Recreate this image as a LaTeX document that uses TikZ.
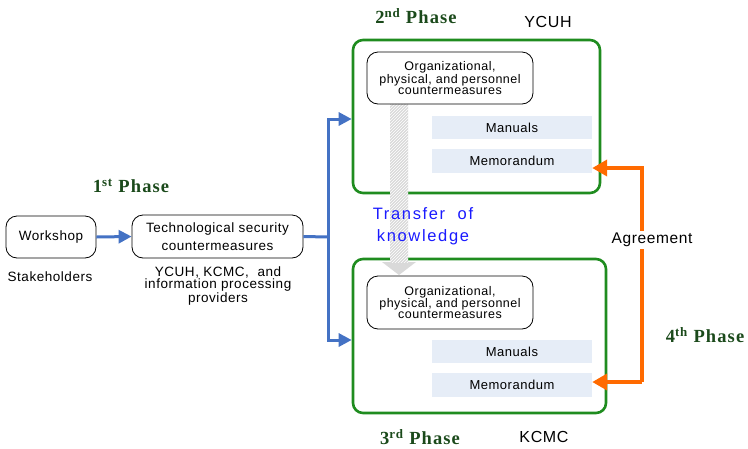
\documentclass[tikz,border=0pt]{standalone}
\usepackage{fontspec}
\setmainfont[LetterSpace=4]{Liberation Sans}
\newfontfamily\phasefont[LetterSpace=6]{Liberation Serif}
\usetikzlibrary{arrows.meta,patterns}
\definecolor{bluearr}{HTML}{4472C4}
\definecolor{boxgreen}{HTML}{1F8C1F}
\definecolor{phasegreen}{HTML}{1B4A1B}
\definecolor{orangearr}{HTML}{FF6A00}
\definecolor{docfill}{HTML}{E6EDF7}
\definecolor{knowblue}{HTML}{1A1AFF}
\begin{document}
\begin{tikzpicture}[x=1pt,y=-1pt,
  rbox/.style={draw, rounded corners=11pt, line width=0.8pt, align=center, inner sep=0pt},
  gbox/.style={draw=boxgreen, rounded corners=10pt, line width=2.6pt, inner sep=0pt},
  docbox/.style={fill=docfill, inner sep=0pt, minimum width=160pt, font=\fontsize{13}{13}\selectfont},
  phase/.style={text=phasegreen, font=\phasefont\bfseries\fontsize{18.5}{18.5}\selectfont},
  lbl/.style={font=\fontsize{13.5}{13.5}\selectfont},
  bluec/.style={draw=bluearr, line width=3pt},
  bluea/.style={bluec, -{Triangle[length=13pt,width=13pt]}},
  orangea/.style={draw=orangearr, line width=4pt, -{Triangle[length=15pt,width=16pt]}}
]
\useasboundingbox (0,0) rectangle (748,448);
% green boxes
\node[gbox, minimum width=247pt, minimum height=153pt] (top) at (476.5,116.5) {};
\node[gbox, minimum width=253pt, minimum height=154pt] (bot) at (479.5,336) {};
% knowledge transfer arrow
\fill[gray!30] (390,104) -- (408,104) -- (408,262) -- (416,262) -- (399,275) -- (382,262) -- (390,262) -- cycle;
\fill[pattern=north east lines, pattern color=white] (390,104) -- (408,104) -- (408,262) -- (390,262) -- cycle;
% left part
\node[rbox, minimum width=90pt, minimum height=42pt, font=\fontsize{13.5}{13.5}\selectfont] (ws) at (51,237) {Workshop};
\node[lbl] (stake) at (50,277) {Stakeholders};
\node[rbox, minimum width=171pt, minimum height=43pt, font=\fontsize{13.5}{18.5}\selectfont] (tech) at (217.5,236.5) {Technological security\\countermeasures};
\node[align=center, font=\fontsize{13.5}{12.5}\selectfont] (prov) at (218,286) {YCUH, KCMC,\ \ and\\information processing\\providers};
\node[phase] (p1) at (131,186) {1\textsuperscript{st} Phase};
% top box content
\node[phase] (p2) at (416,16) {2\textsuperscript{nd} Phase};
\node[font=\fontsize{16}{16}\selectfont] (ycuh) at (548,22) {YCUH};
\node[rbox, fill=white, minimum width=166pt, minimum height=52pt, font=\fontsize{12.5}{11}\selectfont] (orgt) at (450,78) {Organizational,\\physical, and personnel\\countermeasures};
\node[docbox, minimum height=23pt] (mant) at (512,127.5) {Manuals};
\node[docbox, minimum height=24pt] (memt) at (512,161) {Memorandum};
% bottom box content
\node[rbox, fill=white, minimum width=166pt, minimum height=53pt, font=\fontsize{12.5}{11}\selectfont] (orgb) at (450,302.5) {Organizational,\\physical, and personnel\\countermeasures};
\node[docbox, minimum height=23pt] (manb) at (512,351.5) {Manuals};
\node[docbox, minimum height=24pt] (memb) at (512,385) {Memorandum};
\node[phase] (p3) at (420,437) {3\textsuperscript{rd} Phase};
\node[font=\fontsize{16}{16}\selectfont] (kcmc) at (544,437) {KCMC};
% transfer text
\node[align=center, text=knowblue, font=\fontsize{16.5}{22}\selectfont\addfontfeatures{LetterSpace=10}] (know) at (423,226.5) {Transfer\ \ of\\knowledge};
% blue connectors
\coordinate (j) at (328,237);
\coordinate (jt) at (328,119);
\coordinate (jb) at (328,340);
\draw[bluea] (ws.east) -- (tech.west);
\draw[bluec] (tech.east) -- (j);
\draw[bluec, line cap=rect] (jt) -- (jb);
\draw[bluea] (jt) -- (top.west |- jt);
\draw[bluea] (jb) -- (bot.west |- jb);
% orange connectors
\coordinate (o1) at (642,168);
\coordinate (o2) at (642,382);
\draw[orangea] (o2) -- (memb.east |- o2);
\draw[orangea] (o2) -- (o1) -- (memt.east |- o1);
\node[fill=white, inner sep=2pt, font=\fontsize{15.5}{15.5}\selectfont] (agr) at (652,240) {Agreement};
\node[phase] (p4) at (705,335) {4\textsuperscript{th} Phase};
\end{tikzpicture}
\end{document}
